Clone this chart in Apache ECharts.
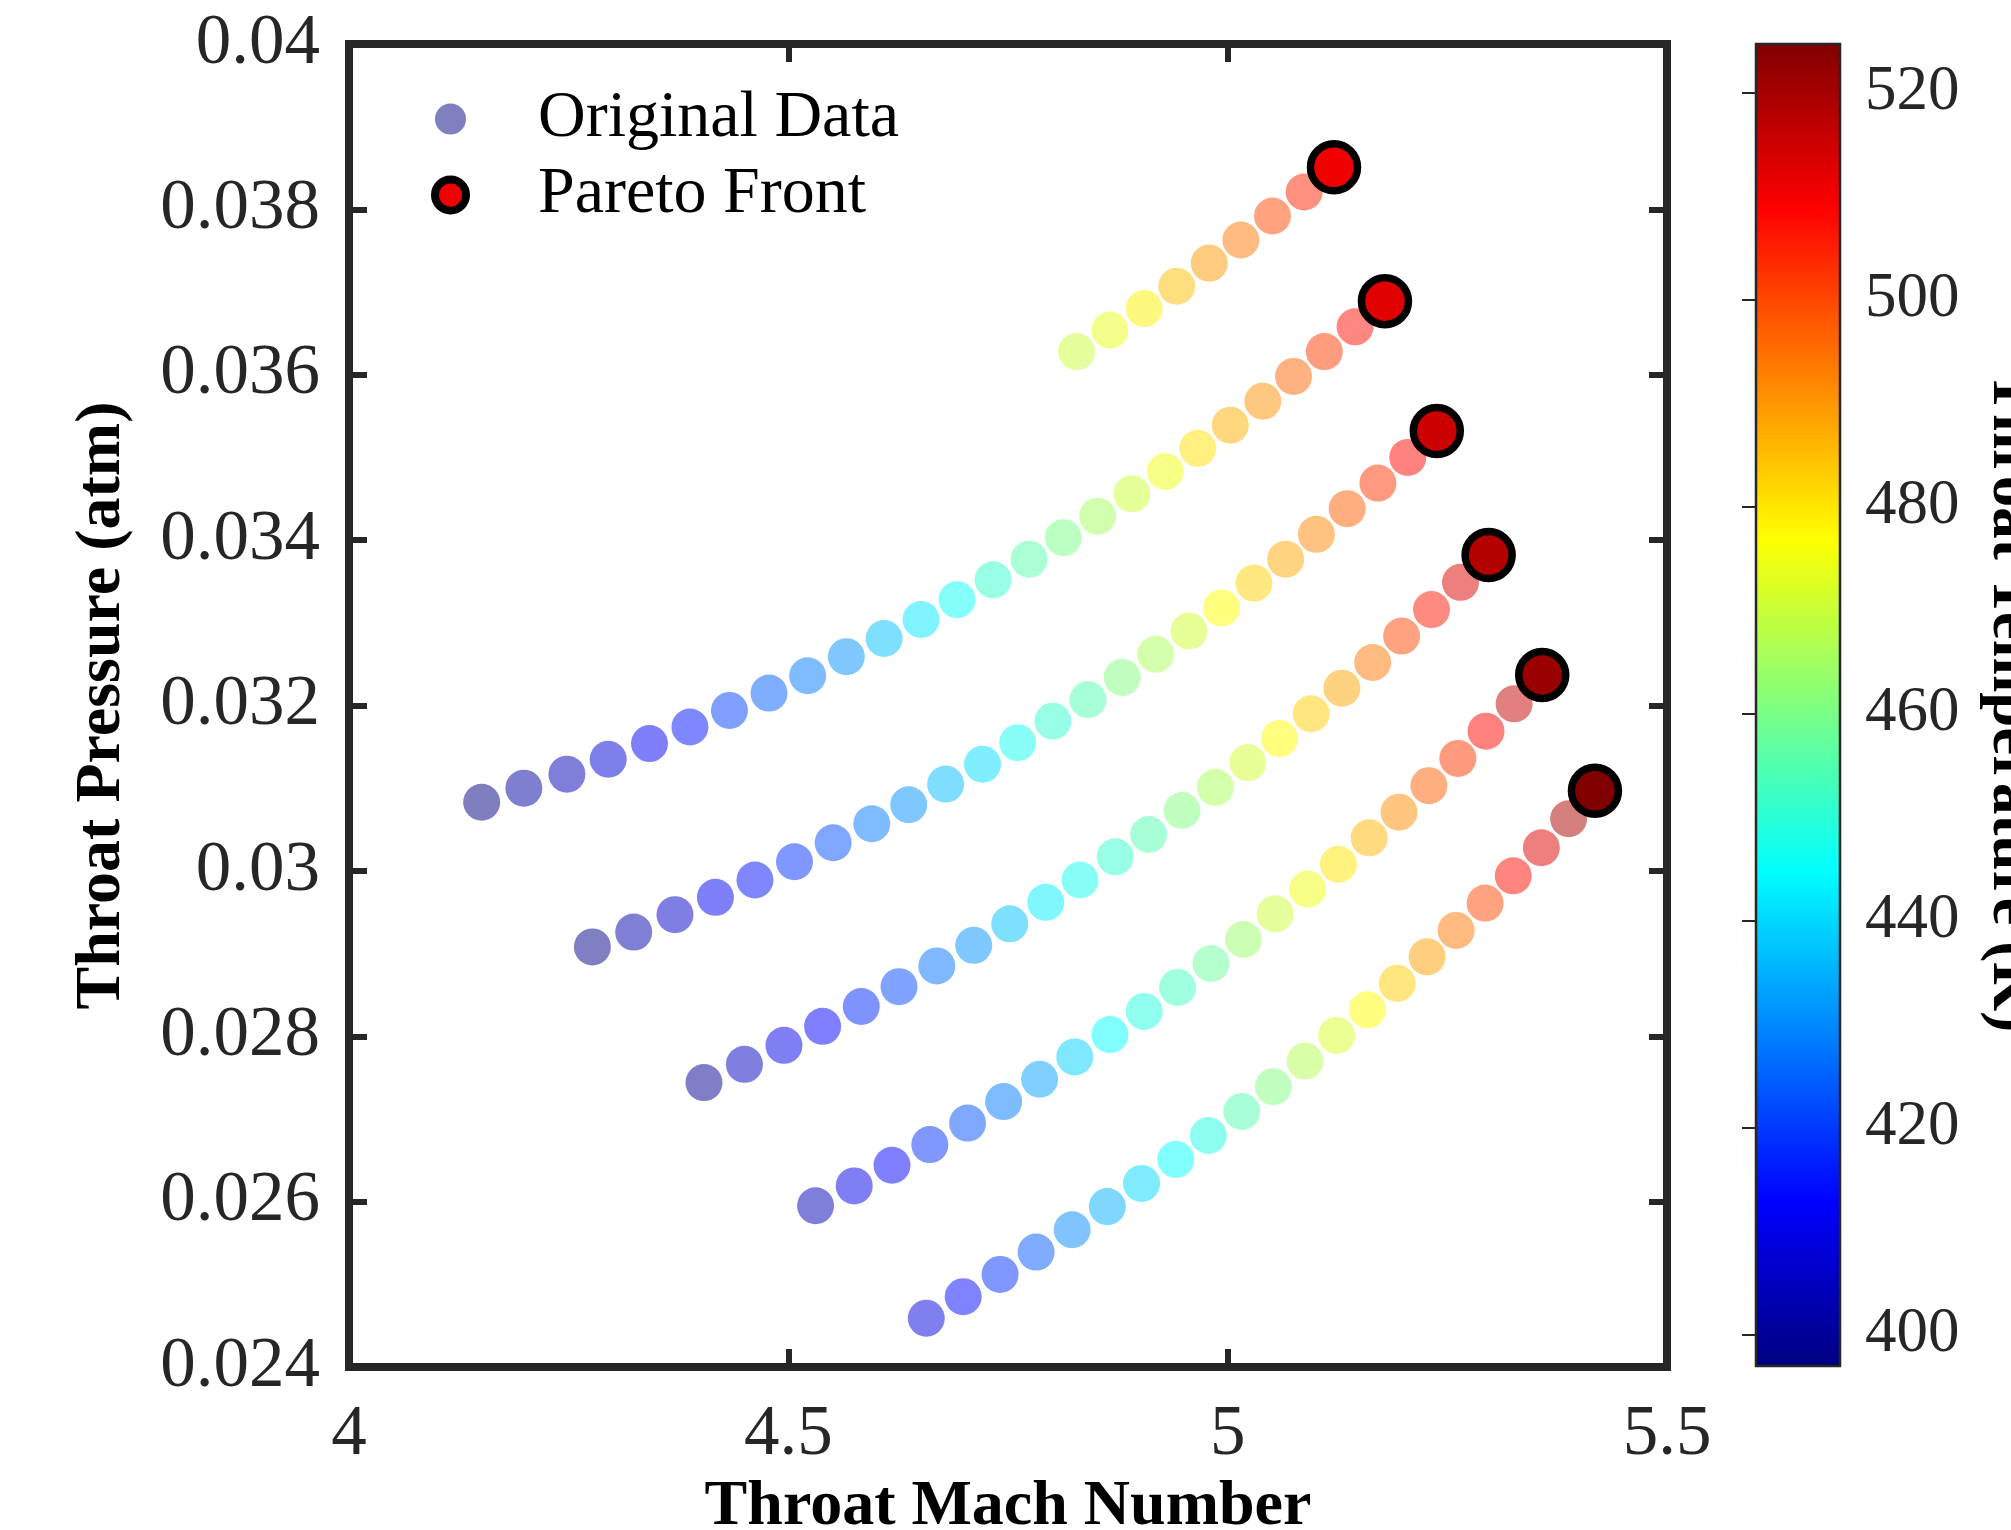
<!DOCTYPE html>
<html>
<head>
<meta charset="utf-8">
<script src="https://cdn.jsdelivr.net/npm/echarts@6/dist/echarts.min.js"></script>
<style>
  html, body { margin: 0; padding: 0; background: #fff; }
  #chart { width: 2011px; height: 1530px; }
</style>
</head>
<body>
<div id="chart"></div>
<script>
// six sweeps, last point of each one is on the Pareto front
const mach1 = [4.828, 4.866, 4.905, 4.942, 4.979, 5.015, 5.051, 5.087, 5.121];
const pres1 = [0.03628, 0.03654, 0.03680, 0.03707, 0.03735, 0.03763, 0.03792, 0.03821, 0.03851];
const temp1 = [470, 474, 478.5, 485, 489.5, 494, 499.5, 504.5, 510.6];

const mach2 = [4.151, 4.199, 4.248, 4.295, 4.342, 4.388, 4.433, 4.478, 4.522, 4.566, 4.609, 4.651, 4.692,
  4.733, 4.774, 4.813, 4.852, 4.891, 4.929, 4.966, 5.003, 5.040, 5.075, 5.110, 5.145, 5.179];
const pres2 = [0.03083, 0.03100, 0.03117, 0.03135, 0.03154, 0.03174, 0.03194, 0.03215, 0.03236, 0.03259,
  0.03281, 0.03304, 0.03328, 0.03352, 0.03377, 0.03403, 0.03429, 0.03456, 0.03483, 0.03511, 0.03539,
  0.03568, 0.03598, 0.03628, 0.03658, 0.03689];
const temp2 = [397, 401, 404, 408, 412, 415, 421, 424.5, 428, 431, 437, 442, 446, 451, 455.5, 460,
  465.5, 470.4, 475, 480.6, 486.7, 490.5, 496, 501.7, 506.8, 512.6];

const mach3 = [4.277, 4.324, 4.371, 4.417, 4.462, 4.507, 4.551, 4.595, 4.637, 4.679, 4.721, 4.761, 4.801,
  4.841, 4.880, 4.918, 4.956, 4.993, 5.030, 5.066, 5.101, 5.136, 5.171, 5.205, 5.238];
const pres3 = [0.02908, 0.02926, 0.02947, 0.02968, 0.02989, 0.03011, 0.03034, 0.03057, 0.03080, 0.03105,
  0.03129, 0.03155, 0.03181, 0.03207, 0.03234, 0.03262, 0.03290, 0.03318, 0.03348, 0.03377, 0.03407,
  0.03438, 0.03469, 0.03500, 0.03532];
const temp3 = [398, 402, 406, 411, 415, 419, 423, 428, 431, 436.6, 441, 446.8, 451, 454.8, 461, 466, 471,
  477, 482.6, 487.7, 491.8, 497.2, 502.4, 508, 515.1];

const mach4 = [4.404, 4.450, 4.495, 4.539, 4.583, 4.626, 4.669, 4.711, 4.752, 4.793, 4.832, 4.872, 4.910,
  4.948, 4.986, 5.023, 5.059, 5.095, 5.130, 5.165, 5.198, 5.232, 5.265, 5.297];
const pres4 = [0.02744, 0.02766, 0.02789, 0.02812, 0.02836, 0.02860, 0.02885, 0.02910, 0.02936, 0.02962,
  0.02989, 0.03017, 0.03044, 0.03073, 0.03101, 0.03131, 0.03160, 0.03190, 0.03221, 0.03252, 0.03284,
  0.03316, 0.03349, 0.03382];
const temp4 = [399, 405, 410, 413, 418, 422, 427, 431, 437, 443, 447, 451, 455, 461, 466, 471, 477, 483,
  488, 494, 500, 506, 513, 518.1];

const mach5 = [4.531, 4.575, 4.618, 4.661, 4.704, 4.745, 4.786, 4.826, 4.866, 4.905, 4.943, 4.981, 5.018,
  5.054, 5.091, 5.126, 5.161, 5.195, 5.229, 5.262, 5.294, 5.326, 5.358];
const pres5 = [0.02595, 0.02619, 0.02644, 0.02669, 0.02695, 0.02721, 0.02748, 0.02775, 0.02802, 0.02830,
  0.02859, 0.02888, 0.02917, 0.02948, 0.02978, 0.03008, 0.03040, 0.03071, 0.03103, 0.03136, 0.03169,
  0.03202, 0.03237];
const temp5 = [404, 410, 413, 419, 423, 428, 433, 439, 445, 449, 453, 458, 464, 470, 475, 480, 486, 491,
  497, 502, 508, 516, 521.5];

const mach6 = [4.657, 4.699, 4.741, 4.782, 4.823, 4.863, 4.902, 4.941, 4.978, 5.016, 5.052, 5.088, 5.124,
  5.159, 5.193, 5.227, 5.260, 5.293, 5.325, 5.357, 5.388, 5.418];
const pres6 = [0.02459, 0.02485, 0.02512, 0.02539, 0.02566, 0.02594, 0.02622, 0.02651, 0.02680, 0.02709,
  0.02739, 0.02770, 0.02801, 0.02832, 0.02864, 0.02896, 0.02928, 0.02961, 0.02994, 0.03028, 0.03063,
  0.03097];
const temp6 = [409, 414, 419, 424, 430, 435, 440, 445, 448, 455, 461, 467, 472, 477, 483, 489, 494, 500,
  507, 513, 519, 524.7];

const tempMin = 397;
const tempMax = 524.7;
const cbarTicks = [400, 420, 440, 460, 480, 500, 520];

// jet colormap, evenly spaced stops
const jet = ['#000080', '#0000ff', '#0080ff', '#00ffff', '#80ff80', '#ffff00', '#ff8000', '#ff0000', '#800000'];

const sweeps = [
  [mach1, pres1, temp1], [mach2, pres2, temp2], [mach3, pres3, temp3],
  [mach4, pres4, temp4], [mach5, pres5, temp5], [mach6, pres6, temp6]
];

const original = [];
const pareto = [];
sweeps.forEach(s => {
  s[0].forEach((m, i) => original.push([m, s[1][i], s[2][i]]));
  const k = s[0].length - 1;
  pareto.push([s[0][k], s[1][k], s[2][k]]);
});

const FONT = 'Liberation Serif';
const AX = '#262626';

const chart = echarts.init(document.getElementById('chart'));

const tickStyle = { inside: true, length: 18, lineStyle: { color: AX, width: 6 } };

chart.setOption({
  animation: false,
  textStyle: { fontFamily: FONT },
  grid: [
    { left: 349, top: 44, width: 1318, height: 1323, show: true, borderColor: AX, borderWidth: 8,
      backgroundColor: 'transparent', outerBoundsMode: 'none', containLabel: false },
    { left: 1756, top: 44, width: 84, height: 1322, outerBoundsMode: 'none', containLabel: false }
  ],
  xAxis: [
    {
      type: 'value', gridIndex: 0, position: 'bottom', min: 4, max: 5.5, interval: 0.5,
      axisLine: { show: false }, axisTick: tickStyle, splitLine: { show: false },
      axisLabel: { margin: 33, fontSize: 71, color: AX, fontFamily: FONT },
      name: 'Throat Mach Number', nameLocation: 'middle', nameGap: 84,
      nameTextStyle: { fontSize: 64, fontWeight: 'bold', color: '#000', fontFamily: FONT }
    },
    {
      type: 'value', gridIndex: 0, position: 'top', min: 4, max: 5.5, interval: 0.5,
      axisLine: { show: false }, axisTick: tickStyle, splitLine: { show: false },
      axisLabel: { show: false }
    },
    { type: 'value', gridIndex: 1, min: 0, max: 1, show: false }
  ],
  yAxis: [
    {
      type: 'value', gridIndex: 0, position: 'left', min: 0.024, max: 0.04, interval: 0.002,
      axisLine: { show: false }, axisTick: tickStyle, splitLine: { show: false },
      axisLabel: { margin: 29, fontSize: 71, color: AX, fontFamily: FONT },
      name: 'Throat Pressure (atm)', nameLocation: 'middle', nameGap: 215, nameRotate: 90,
      nameTextStyle: { fontSize: 64, fontWeight: 'bold', color: '#000', fontFamily: FONT }
    },
    {
      type: 'value', gridIndex: 0, position: 'right', min: 0.024, max: 0.04, interval: 0.002,
      axisLine: { show: false }, axisTick: tickStyle, splitLine: { show: false },
      axisLabel: { show: false }
    },
    {
      type: 'value', gridIndex: 1, position: 'right', min: tempMin, max: tempMax,
      axisLine: { show: false }, splitLine: { show: false },
      axisTick: { inside: true, length: 14, customValues: cbarTicks, lineStyle: { color: AX, width: 2 } },
      axisLabel: { margin: 25, fontSize: 63, color: AX, fontFamily: FONT, customValues: cbarTicks }
    }
  ],
  visualMap: {
    type: 'continuous', show: false, dimension: 2, seriesIndex: [0, 1],
    min: tempMin, max: tempMax, inRange: { color: jet }
  },
  legend: {
    orient: 'vertical', left: 431, top: 86, padding: 0,
    itemWidth: 31, itemHeight: 31, itemGap: 10, icon: 'circle',
    textStyle: { fontSize: 66, color: '#000', fontFamily: FONT, lineHeight: 66, padding: [0, 0, 0, 67] },
    data: [
      { name: 'Original Data', itemStyle: { color: '#8080c0', opacity: 1, borderWidth: 0 } },
      { name: 'Pareto Front', itemStyle: { color: '#f00000', opacity: 1, borderColor: '#000', borderWidth: 8 } }
    ]
  },
  graphic: [
    {
      type: 'text', x: 1979, y: 702, rotation: -Math.PI / 2,
      style: { text: 'Throat Temperature (K)', font: 'bold 63px "Liberation Serif"', fill: '#000',
        align: 'center', verticalAlign: 'bottom' }
    }
  ],
  series: [
    {
      name: 'Original Data', type: 'scatter', xAxisIndex: 0, yAxisIndex: 0,
      symbol: 'circle', symbolSize: 37,
      itemStyle: { color: '#000080', opacity: 0.5 },
      data: original, z: 2
    },
    {
      name: 'Pareto Front', type: 'scatter', xAxisIndex: 0, yAxisIndex: 0,
      symbol: 'circle', symbolSize: 47,
      itemStyle: { color: '#f00000', opacity: 1, borderColor: '#000', borderWidth: 7.5 },
      data: pareto, z: 3
    },
    {
      name: 'colorbar', type: 'custom', xAxisIndex: 2, yAxisIndex: 2, silent: true,
      data: [[0, tempMin, 1, tempMax]],
      renderItem: function (params, api) {
        const p0 = api.coord([api.value(0), api.value(1)]);
        const p1 = api.coord([api.value(2), api.value(3)]);
        return {
          type: 'rect',
          shape: { x: p0[0], y: p1[1], width: p1[0] - p0[0], height: p0[1] - p1[1] },
          style: {
            fill: new echarts.graphic.LinearGradient(0, 0, 0, 1, jet.slice().reverse().map((c, i) => ({
              offset: i / (jet.length - 1), color: c
            }))),
            stroke: AX, lineWidth: 2.5
          }
        };
      }
    }
  ]
});
</script>
</body>
</html>
